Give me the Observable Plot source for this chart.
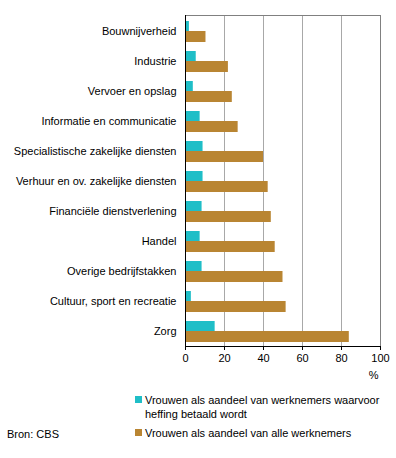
<!DOCTYPE html>
<html>
<head>
<meta charset="utf-8">
<script src="https://cdn.jsdelivr.net/npm/d3@7"></script>
<script src="https://cdn.jsdelivr.net/npm/@observablehq/plot@0.6"></script>
<style>
  html, body { margin: 0; padding: 0; background: #fff; }
  body { width: 396px; height: 458px; position: relative; overflow: hidden;
         font-family: "Liberation Sans", Arial, sans-serif; font-size: 11px; color: #000; }
  #chart svg { display: block; }
  .leg { position: absolute; left: 135px; line-height: 14px; }
  .leg .sw { position: absolute; left: 0; top: 3px; width: 7px; height: 7px; }
  .leg .tx { margin-left: 10px; display: block; }
  #src { position: absolute; left: 7px; top: 428px; }
</style>
</head>
<body>
<div id="chart"></div>
<div class="leg" style="top:393px;"><span class="sw" style="background:#1fbec7"></span><span class="tx">Vrouwen als aandeel van werknemers waarvoor<br>heffing betaald wordt</span></div>
<div class="leg" style="top:426px;"><span class="sw" style="background:#b98532"></span><span class="tx">Vrouwen als aandeel van alle werknemers</span></div>
<div id="src">Bron: CBS</div>
<script>
const categories = [
  "Bouwnijverheid",
  "Industrie",
  "Vervoer en opslag",
  "Informatie en communicatie",
  "Specialistische zakelijke diensten",
  "Verhuur en ov. zakelijke diensten",
  "Financiële dienstverlening",
  "Handel",
  "Overige bedrijfstakken",
  "Cultuur, sport en recreatie",
  "Zorg"
];
const heffing = [2, 5.5, 4, 7.5, 9, 9, 8.5, 7.5, 8.5, 3, 15.2];
const alle = [10.5, 22, 24, 27, 40, 42.4, 44, 46, 50, 51.6, 84];
const xTicks = [0, 20, 40, 60, 80, 100];
const unitLabel = "%";
const seriesNames = [
  "Vrouwen als aandeel van werknemers waarvoor heffing betaald wordt",
  "Vrouwen als aandeel van alle werknemers"
];

const dataA = categories.map((c, i) => ({cat: c, v: heffing[i]}));
const dataB = categories.map((c, i) => ({cat: c, v: alle[i]}));

const chart = Plot.plot({
  width: 396,
  height: 385,
  marginLeft: 185,
  marginRight: 16,
  marginTop: 15,
  marginBottom: 39,
  style: {fontFamily: "'Liberation Sans', Arial, sans-serif", fontSize: "11px", color: "#000", background: "#fff"},
  x: {domain: [0, 100]},
  y: {domain: categories, padding: 0},
  marks: [
    Plot.ruleX(xTicks.slice(1, -1), {stroke: "#a8a8a8", strokeWidth: 1}),
    Plot.ruleX([100], {stroke: "#808080", strokeWidth: 1}),
    Plot.frame({anchor: "top", stroke: "#808080"}),
    Plot.barX(dataA, {y: "cat", x: "v", fill: "#1fbec7", insetTop: 5, insetBottom: 15}),
    Plot.barX(dataB, {y: "cat", x: "v", fill: "#b98532", insetTop: 15, insetBottom: 4}),
    Plot.ruleX([0], {stroke: "#000"}),
    Plot.frame({anchor: "bottom", stroke: "#000"}),
    Plot.axisY({tickSize: 0, tickPadding: 9, label: null, fontSize: 11}),
    Plot.axisX({ticks: xTicks, tickSize: 4, tickPadding: 4, label: null, fontSize: 11, stroke: "#000"}),
    Plot.text([unitLabel], {frameAnchor: "bottom-right", text: d => d, textAnchor: "end",
                            dx: -2, dy: 32, fontSize: 11, fill: "#000"})
  ]
});
document.getElementById("chart").appendChild(chart);
</script>
</body>
</html>
